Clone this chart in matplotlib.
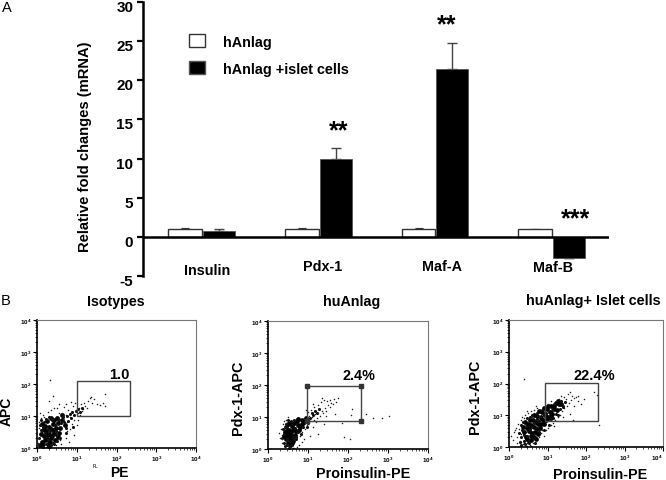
import matplotlib
matplotlib.use("Agg")
import matplotlib.pyplot as plt
from matplotlib.patches import Patch, Rectangle
from matplotlib.transforms import ScaledTranslation
import numpy as np

plt.rcParams["font.family"] = ["Liberation Sans", "DejaVu Sans"]
plt.rcParams["font.weight"] = "bold"
plt.rcParams["axes.unicode_minus"] = False
plt.rcParams["mathtext.fontset"] = "custom"
plt.rcParams["mathtext.default"] = "bf"
plt.rcParams["mathtext.bf"] = "Liberation Sans:bold"

W, H = 666, 481

# bar panel
genes = ["Insulin", "Pdx-1", "Maf-A", "Maf-B"]
anlag = [1.0, 1.0, 1.0, 1.0]
anlag_err = [0.1, 0.1, 0.1, 0.0]
islet = [0.7, 9.9, 21.4, -2.7]
islet_err = [0.35, 1.4, 3.4, 0.0]
stars = ["", "**", "**", "***"]

# flow panels, values in decades (log10)
iso_core_x = [0.12, 0.18, 0.25, 0.31, 0.22, 0.36, 0.42, 0.30, 0.48, 0.40, 0.15, 0.27, 0.53, 0.35, 0.44,
              0.21, 0.10, 0.33, 0.58, 0.50, 0.38, 0.26, 0.17, 0.46, 0.64, 0.56, 0.30, 0.41, 0.08, 0.20,
              0.70, 0.62, 0.52, 0.34, 0.24, 0.13]
iso_core_y = [0.20, 0.36, 0.28, 0.44, 0.52, 0.58, 0.46, 0.66, 0.62, 0.74, 0.12, 0.14, 0.78, 0.30, 0.88,
              0.70, 0.44, 0.18, 0.64, 0.94, 0.38, 0.84, 0.60, 0.24, 0.88, 0.46, 0.06, 0.56, 0.08, 0.24,
              0.72, 1.02, 0.34, 0.94, 0.40, 0.74]
iso_mid_x = [0.06, 0.09, 0.14, 0.05, 0.11, 0.19, 0.16, 0.28, 0.23, 0.37, 0.45, 0.33, 0.43, 0.55, 0.60,
             0.49, 0.66, 0.72, 0.76, 0.68, 0.82, 0.88, 0.78, 0.93, 0.98, 1.03, 0.86, 1.08, 1.13, 0.28,
             0.39, 0.51, 0.12, 0.25, 0.35, 0.47, 0.07, 0.18, 0.29, 0.57, 0.74, 0.90]
iso_mid_y = [0.30, 0.56, 0.66, 0.10, 0.86, 0.46, 0.04, 0.58, 0.90, 0.86, 0.72, 0.52, 0.14, 0.88, 0.78,
             0.42, 0.96, 0.62, 1.00, 0.80, 1.06, 1.12, 0.84, 1.02, 1.16, 1.22, 0.94, 1.14, 1.26, 0.24,
             0.16, 0.22, 0.54, 0.12, 0.08, 0.54, 0.72, 0.80, 0.98, 0.30, 0.48, 0.66]
iso_x = [0.04, 0.06, 0.10, 0.14, 0.05, 0.08, 0.03, 0.12, 0.18, 0.22, 0.28, 0.36, 0.44, 0.50, 0.56, 0.62,
         0.68, 0.72, 0.78, 0.82, 0.86, 0.90, 0.94, 0.98, 1.02, 1.06, 1.10, 1.14, 1.18, 1.22, 1.28, 1.33,
         1.38, 1.44, 1.50, 1.58, 1.66, 1.72, 1.70, 0.60, 0.72, 0.80, 0.84, 0.92, 1.00, 1.04, 0.88, 0.76,
         0.96, 1.08, 1.16, 0.66, 0.55, 0.48, 0.40, 0.33, 0.76, 0.30, 0.58, 0.74, 0.86, 0.54, 1.26, 1.36]
iso_y = [0.82, 0.62, 0.94, 1.02, 0.30, 1.10, 0.15, 0.04, 0.96, 0.02, 1.14, 1.20, 1.24, 1.26, 1.36, 1.10,
         1.28, 1.02, 1.20, 0.98, 1.12, 1.30, 0.86, 1.18, 1.08, 1.26, 1.38, 1.16, 1.42, 1.30, 1.48, 1.56,
         1.40, 1.52, 1.38, 1.34, 1.42, 1.30, 1.68, 0.12, 0.30, 0.18, 0.58, 0.42, 0.72, 0.88, 0.76, 0.52,
         1.42, 1.04, 1.22, 0.92, 1.08, 0.10, 1.62, 2.14, 0.82, 1.46, 0.26, 1.38, 1.44, 0.74, 1.24, 1.60]

anl_core_x = [0.42, 0.48, 0.54, 0.60, 0.52, 0.58, 0.64, 0.70, 0.46, 0.50, 0.56, 0.62, 0.68, 0.74, 0.80,
              0.44, 0.60, 0.66, 0.72, 0.78, 0.84, 0.55, 0.49, 0.53, 0.57, 0.63, 0.90, 0.86, 0.76, 0.94,
              0.40, 0.47, 0.51, 0.59]
anl_core_y = [0.52, 0.40, 0.30, 0.42, 0.60, 0.52, 0.64, 0.56, 0.68, 0.20, 0.12, 0.26, 0.44, 0.74, 0.68,
              0.30, 0.72, 0.82, 0.86, 0.58, 0.78, 0.82, 0.78, 0.44, 0.36, 0.58, 0.84, 0.90, 0.94, 0.96,
              0.40, 0.56, 0.50, 0.18]
anl_mid_x = [0.38, 0.36, 0.41, 0.45, 0.43, 0.50, 0.55, 0.61, 0.66, 0.71, 0.75, 0.82, 0.88, 0.92, 0.97,
             1.01, 1.05, 1.09, 1.13, 0.98, 1.17, 1.22, 1.27, 0.52, 0.58, 0.47, 0.39, 0.65, 0.70, 0.44,
             0.56, 0.48, 0.62, 0.67]
anl_mid_y = [0.62, 0.34, 0.18, 0.78, 0.08, 0.92, 0.08, 0.14, 0.32, 0.38, 0.52, 0.48, 0.70, 0.86, 0.92,
             0.80, 0.98, 1.12, 1.06, 0.68, 1.18, 1.14, 1.26, 0.04, 0.88, 0.12, 0.48, 0.92, 0.30, 0.68,
             0.24, 0.30, 0.38, 0.66]
anl_x = [0.28, 0.33, 0.36, 0.38, 0.34, 0.40, 0.44, 0.30, 0.42, 0.46, 0.36, 0.50, 0.72, 0.80, 0.86, 0.92,
         0.98, 1.02, 1.06, 1.10, 1.14, 1.18, 1.22, 1.26, 1.30, 1.34, 1.38, 1.42, 1.46, 1.50, 1.54, 1.58,
         1.62, 1.64, 1.08, 1.16, 1.24, 1.32, 1.40, 1.00, 1.20, 0.96, 1.12, 1.28, 1.36, 1.48, 1.56, 1.70,
         1.76, 0.90, 0.84, 0.78, 1.12, 1.40, 1.90, 2.04, 2.10, 2.44, 2.62, 2.86, 3.02, 1.68, 1.24, 1.44,
         1.04, 1.84, 2.08, 0.62, 0.66, 0.58, 0.54]
anl_y = [0.50, 0.62, 0.44, 0.78, 0.30, 0.88, 0.92, 0.34, 0.14, 0.80, 0.18, 1.00, 0.06, 0.40, 0.54, 0.64,
         0.76, 1.04, 0.88, 1.00, 0.92, 1.08, 0.96, 1.12, 1.04, 1.20, 1.14, 1.28, 1.20, 1.36, 1.30, 1.44,
         1.40, 1.56, 1.22, 1.30, 1.38, 1.46, 1.52, 1.16, 0.84, 1.22, 1.42, 1.26, 1.58, 1.50, 1.54, 1.48,
         1.58, 0.30, 0.22, 0.14, 0.70, 0.78, 0.38, 0.30, 1.26, 1.10, 0.96, 0.98, 1.02, 1.10, 0.48, 1.02,
         0.42, 0.82, 1.06, 0.04, 0.02, 0.06, 0.04]

isl_core_x = [0.40, 0.46, 0.52, 0.58, 0.64, 0.70, 0.76, 0.82, 0.88, 0.94, 1.00, 1.06, 1.12, 1.18, 1.24,
              1.30, 1.36, 0.44, 0.50, 0.56, 0.62, 0.68, 0.74, 0.80, 0.86, 0.92, 0.98, 1.04, 1.10, 0.54,
              0.60, 0.66, 0.72, 0.78, 0.84, 0.90, 0.96, 1.02, 1.08, 1.16, 0.36, 0.42, 0.48, 1.22, 1.28,
              0.58, 0.64, 0.70, 0.76, 0.52]
isl_core_y = [0.48, 0.60, 0.50, 0.70, 0.62, 0.80, 0.72, 0.90, 0.84, 1.00, 0.94, 1.10, 1.04, 1.20, 1.16,
              1.34, 1.36, 0.32, 0.72, 0.34, 0.86, 0.46, 0.98, 0.60, 1.10, 0.74, 1.20, 0.90, 1.30, 0.86,
              0.44, 1.00, 0.56, 1.14, 0.72, 1.24, 0.84, 1.30, 0.98, 1.28, 0.62, 0.80, 0.24, 1.40, 1.44,
              0.22, 0.32, 0.26, 0.42, 0.64]
isl_mid_x = [0.30, 0.34, 0.38, 0.26, 0.32, 0.42, 0.46, 0.50, 0.55, 0.61, 0.67, 0.73, 0.79, 0.85, 0.91,
             0.97, 1.03, 1.09, 1.15, 1.21, 1.27, 1.33, 1.39, 1.45, 0.28, 0.36, 0.48, 0.54, 0.60, 0.66,
             0.72, 0.78, 0.84, 0.90, 1.11, 1.18, 1.34, 1.41, 0.44, 0.52, 0.38, 0.30]
isl_mid_y = [0.30, 0.52, 0.18, 0.44, 0.70, 0.10, 0.90, 0.18, 0.96, 1.00, 0.14, 1.08, 0.46, 1.18, 0.54,
             1.06, 0.70, 0.88, 0.92, 1.04, 1.02, 1.20, 1.26, 1.42, 0.16, 0.80, 0.34, 0.58, 0.62, 0.76,
             0.88, 0.82, 0.98, 1.02, 1.18, 1.36, 1.44, 1.30, 0.66, 0.12, 0.38, 0.06]
isl_x = [0.05, 0.10, 0.14, 0.18, 0.20, 0.24, 0.28, 0.30, 0.32, 0.34, 0.38, 0.26, 0.22, 0.16, 0.42, 0.46,
         0.50, 0.54, 0.58, 0.62, 0.66, 0.72, 0.78, 0.84, 0.90, 0.96, 0.44, 0.36, 0.30, 0.40, 0.48, 0.56,
         1.02, 1.08, 1.14, 1.20, 1.26, 1.32, 1.38, 1.44, 1.50, 1.56, 1.62, 1.68, 1.74, 1.80, 1.48, 1.52,
         1.58, 1.64, 1.42, 1.36, 1.30, 1.22, 1.10, 1.00, 1.70, 1.78, 1.88, 1.96, 2.22, 2.28, 1.58, 1.66,
         1.40, 1.18, 2.34, 0.46, 0.38, 0.86, 0.70, 0.60, 0.50]
isl_y = [0.36, 0.22, 0.46, 0.60, 0.12, 0.72, 0.18, 0.86, 0.40, 0.96, 0.90, 0.58, 0.30, 0.52, 1.02, 0.14,
         1.06, 0.06, 1.12, 0.14, 1.18, 1.24, 0.30, 0.44, 0.36, 0.54, 0.04, 0.10, 0.06, 0.12, 0.02, 0.04,
         0.60, 0.70, 0.76, 0.86, 0.94, 1.02, 1.12, 1.22, 1.30, 1.38, 1.48, 1.54, 1.56, 1.62, 1.52, 1.68,
         1.74, 1.62, 1.58, 1.60, 1.50, 1.46, 1.44, 1.36, 1.28, 1.46, 1.34, 1.52, 1.72, 1.64, 1.04, 0.86,
         0.94, 0.66, 0.68, 1.12, 2.14, 0.52, 1.28, 0.96, 0.80]


def box(l, t, r, b):
    return [l / W, 1 - b / H, (r - l) / W, (b - t) / H]


def ftext(x, y, s, **kw):
    kw.setdefault("ha", "center")
    kw.setdefault("va", "center")
    kw.setdefault("fontweight", "bold")
    fig.text(x / W, 1 - y / H, s, **kw)


fig = plt.figure(figsize=(W / 100, H / 100), dpi=100)

# --- A ---
ax = fig.add_axes(box(143, 3, 609, 277))
x = np.arange(len(genes))
bw = 0.29
ax.bar(x - bw / 2, anlag, bw, color="white", edgecolor="#333333", lw=1.0, zorder=2)
ax.bar(x + bw / 2, islet, bw * 0.95, color="black", edgecolor="#555555", lw=0.6, zorder=2)
ax.errorbar(x - bw / 2, anlag, yerr=[[0] * 4, anlag_err], fmt="none", ecolor="#333333",
            elinewidth=0.8, capsize=3, capthick=0.8, zorder=1)
ax.errorbar(x + bw / 2, islet, yerr=[[0] * 4, islet_err], fmt="none", ecolor="#444444",
            elinewidth=1.0, capsize=3.5, capthick=1.0, zorder=1)
ax.set_xlim(-0.506, 3.487)
ax.set_ylim(-5, 30)
ax.set_yticks(range(-5, 31, 5))
ax.tick_params(axis="y", labelsize=11, width=1.6, length=4, pad=3)
# the labels sit a little below their ticks in the original
shift = ScaledTranslation(0, -3.5 / 100, fig.dpi_scale_trans)
for lab in ax.get_yticklabels():
    lab.set_transform(lab.get_transform() + shift)
ax.set_xticks([])
for s in ["top", "right", "bottom"]:
    ax.spines[s].set_visible(False)
ax.spines["left"].set_linewidth(1.8)
ax.axhline(0, color="black", lw=1.8, zorder=3)
ax.legend(handles=[Patch(facecolor="white", edgecolor="#333333", label="hAnlag"),
                   Patch(facecolor="black", edgecolor="#555555", label="hAnlag +islet cells")],
          loc="upper left", bbox_to_anchor=(0.098, 0.883), frameon=False, fontsize=10.4,
          handlelength=1.15, handleheight=1.05, handletextpad=1.25, labelspacing=0.85, borderpad=0, borderaxespad=0)

ftext(85, 147, "Relative fold changes (mRNA)", fontsize=10.6, rotation=90)
for gx, gy, g in zip([207, 323, 442, 553], [271, 267, 267, 268], genes):
    ftext(gx, gy, g, fontsize=10.4)
for sx, sy, st in zip([202, 339, 447, 576], [0, 131, 25, 219], stars):
    if st:
        ftext(sx, sy, st, fontsize=18)
ftext(7, 8, "A", fontsize=10.5, fontweight="normal")
ftext(6, 301, "B", fontsize=10.5, fontweight="normal")

# --- B ---
boxes = [(37, 321, 196, 449), (268, 322, 428, 450), (509, 321, 663, 448)]
gates = [(10, 218, 10, 124), (9.3, 208, 7.3, 94), (8.8, 209, 6.7, 106)]
core = [(iso_core_x, iso_core_y), (anl_core_x, anl_core_y), (isl_core_x, isl_core_y)]
mid = [(iso_mid_x, iso_mid_y), (anl_mid_x, anl_mid_y), (isl_mid_x, isl_mid_y)]
dots = [(iso_x, iso_y), (anl_x, anl_y), (isl_x, isl_y)]

for i in range(3):
    a = fig.add_axes(box(*boxes[i]))
    a.set_xscale("log")
    a.set_yscale("log")
    a.set_xlim(1, 1e4)
    a.set_ylim(1, 1e4)
    a.scatter(10 ** np.array(core[i][0]), 10 ** np.array(core[i][1]), s=12, color="black", lw=0)
    a.scatter(10 ** np.array(mid[i][0]), 10 ** np.array(mid[i][1]), s=5, color="#111111", lw=0)
    a.scatter(10 ** np.array(dots[i][0]), 10 ** np.array(dots[i][1]), s=1.2, color="#222222", lw=0)
    l, r, b, t = gates[i]
    a.add_patch(Rectangle((l, b), r - l, t - b, fill=False, ec="#444444", lw=1.0))
    if i == 1:
        a.plot([l, l, r, r], [b, t, t, b], "s", color="#333333", ms=3, ls="none")
    a.tick_params(which="major", labelsize=4.5, length=3, width=0.8, pad=1)
    a.tick_params(which="minor", length=1.5, width=0.5)
    for s in ["top", "right"]:
        a.spines[s].set_color("#777777")
        a.spines[s].set_linewidth(0.8)
    for s in ["left", "bottom"]:
        a.spines[s].set_linewidth(1.2)
    if i == 2:
        fig.canvas.draw()
        a.get_xticklabels()[-2 if len(a.get_xticklabels()) > 5 else -1].set_ha("right")

ftext(116, 302, "Isotypes", fontsize=10.3)
ftext(352, 302, "huAnlag", fontsize=10.3)
ftext(593, 301, "huAnlag+ Islet cells", fontsize=10.4)
ftext(7, 411, "APC", fontsize=10)
fig.texts[-1].set_rotation(90)
ftext(119, 473, "PE", fontsize=10)
ftext(95, 467, "FL", fontsize=3.5, fontweight="normal")
ftext(238, 398, "Pdx-1-APC", fontsize=10.4, rotation=90)
ftext(363, 474, "Proinsulin-PE", fontsize=10.4)
ftext(475, 397, "Pdx-1-APC", fontsize=10.4, rotation=90)
ftext(600, 475, "Proinsulin-PE", fontsize=10.4)
ftext(119, 375, "1.0", fontsize=10.5)
ftext(359, 376, "2.4%", fontsize=10.4)
ftext(594, 376, "22.4%", fontsize=10.5)

fig.savefig("out.png", dpi=100)
